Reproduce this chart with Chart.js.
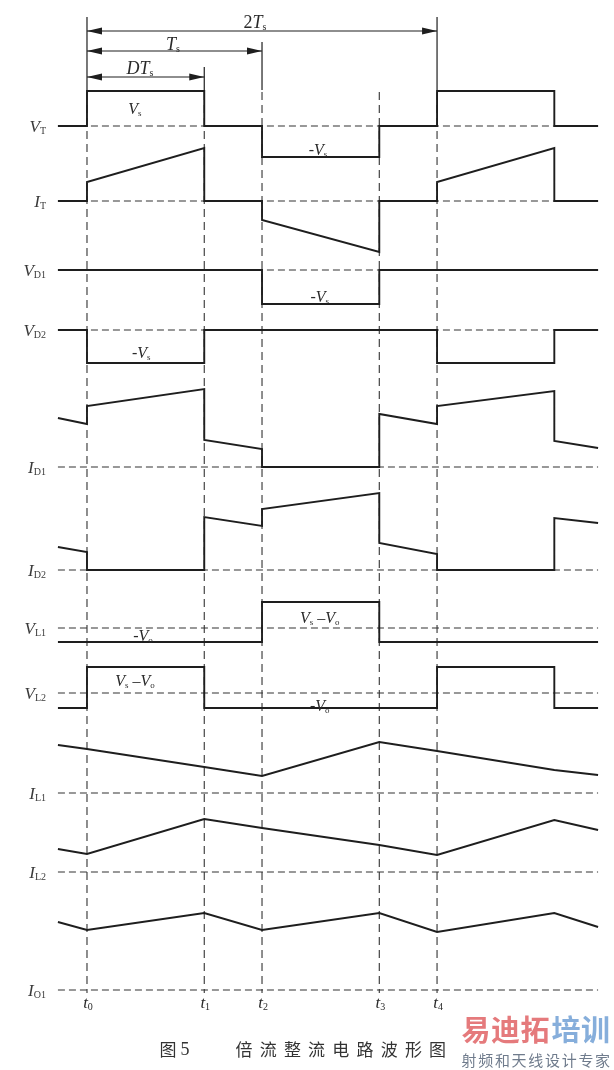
<!DOCTYPE html>
<html lang="zh">
<head>
<meta charset="utf-8">
<title>倍流整流电路波形图</title>
<script src="https://cdn.jsdelivr.net/npm/chart.js@4/dist/chart.umd.min.js"></script>
<style>
  html, body { margin: 0; padding: 0; background: #fff; }
  #wrap { position: relative; width: 614px; height: 1070px; }
</style>
</head>
<body>
<div id="wrap"><canvas id="waves"></canvas></div>
<script>
// time in units of Ts, t0 = 0
const edgeTimes = [0, 0.67, 1, 1.67, 2];
const edgeNames = ["0", "1", "2", "3", "4"];
const tStart = -0.166;
const tEnd = 2.92;
const stepTimes = [tStart, 0, 0, 0.67, 0.67, 1, 1, 1.67, 1.67, 2, 2, 2.67, 2.67, tEnd];
const rampTimes = [tStart, 0, 0.67, 1, 1.67, 2, 2.67, tEnd];

// amplitudes above each trace's zero line
const vT = [0, 0, 35, 35, 0, 0, -31, -31, 0, 0, 35, 35, 0, 0];
const iT = [0, 0, 19, 53, 0, 0, -19, -51, 0, 0, 19, 53, 0, 0];
const vD1 = [0, 0, 0, 0, 0, 0, -34, -34, 0, 0, 0, 0, 0, 0];
const vD2 = [0, 0, -33, -33, 0, 0, 0, 0, 0, 0, -33, -33, 0, 0];
const iD1 = [49, 43, 61, 78, 27, 18, 0, 0, 53, 43, 61, 76, 26, 19];
const iD2 = [23, 18, 0, 0, 53, 44, 61, 77, 27, 16, 0, 0, 52, 47];
const vL1 = [-14, -14, -14, -14, -14, -14, 26, 26, -14, -14, -14, -14, -14, -14];
const vL2 = [-15, -15, 26, 26, -15, -15, -15, -15, -15, -15, 26, 26, -15, -15];
const iL1 = [48, 44, 26, 17, 51, 42, 23, 18];
const iL2 = [23, 18, 53, 44, 27, 17, 52, 42];
const iO1 = [68, 60, 77, 60, 77, 58, 77, 63];

// layout: row of each trace's zero line
const baseRows = [126, 201, 270, 330, 467, 570, 628, 693, 793, 872, 990];

const traces = [
  { label: [["V", "i"], ["T", "s"]], times: stepTimes, values: vT },
  { label: [["I", "i"], ["T", "s"]], times: stepTimes, values: iT },
  { label: [["V", "i"], ["D1", "s"]], times: stepTimes, values: vD1 },
  { label: [["V", "i"], ["D2", "s"]], times: stepTimes, values: vD2 },
  { label: [["I", "i"], ["D1", "s"]], times: stepTimes, values: iD1 },
  { label: [["I", "i"], ["D2", "s"]], times: stepTimes, values: iD2 },
  { label: [["V", "i"], ["L1", "s"]], times: stepTimes, values: vL1 },
  { label: [["V", "i"], ["L2", "s"]], times: stepTimes, values: vL2 },
  { label: [["I", "i"], ["L1", "s"]], times: rampTimes, values: iL1 },
  { label: [["I", "i"], ["L2", "s"]], times: rampTimes, values: iL2 },
  { label: [["I", "i"], ["O1", "s"]], times: rampTimes, values: iO1 },
];

// level tags written on the waveforms: trace, time, amplitude
const VS = [["V", "i"], ["s", "s"]];
const waveTags = [
  { trace: 0, t: 0.274, amp: 18, parts: VS },
  { trace: 0, t: 1.32, amp: -23, parts: [["-", "r"], ...VS] },
  { trace: 2, t: 1.33, amp: -26, parts: [["-", "r"], ...VS] },
  { trace: 3, t: 0.31, amp: -22, parts: [["-", "r"], ...VS] },
  { trace: 6, t: 0.32, amp: -7, parts: [["-", "r"], ["V", "i"], ["o", "s"]] },
  { trace: 6, t: 1.33, amp: 11, parts: [...VS, [" –", "r"], ["V", "i"], ["o", "s"]] },
  { trace: 7, t: 0.274, amp: 13, parts: [...VS, [" –", "r"], ["V", "i"], ["o", "s"]] },
  { trace: 7, t: 1.33, amp: -12, parts: [["-", "r"], ["V", "i"], ["o", "s"]] },
];

const INK = "#1e1e1e";
const SERIF = '"Liberation Serif", "DejaVu Serif", serif';

function drawRich(ctx, parts, x, y, size, align) {
  const fontFor = (k) =>
    k === "s" ? `${Math.round(size * 0.58)}px ${SERIF}` : `${k === "i" ? "italic " : ""}${size}px ${SERIF}`;
  let w = 0;
  parts.forEach(([t, k]) => {
    ctx.font = fontFor(k);
    w += ctx.measureText(t).width;
  });
  let cx = align === "right" ? x - w : align === "center" ? x - w / 2 : x;
  ctx.textBaseline = "alphabetic";
  ctx.textAlign = "left";
  parts.forEach(([t, k]) => {
    ctx.font = fontFor(k);
    ctx.fillText(t, cx, k === "s" ? y + size * 0.12 : y);
    cx += ctx.measureText(t).width;
  });
}

function arrowHead(ctx, x, y, dir) {
  ctx.beginPath();
  ctx.moveTo(x, y);
  ctx.lineTo(x + dir * 15, y - 3.5);
  ctx.lineTo(x + dir * 15, y + 3.5);
  ctx.closePath();
  ctx.fill();
}

function dimArrow(ctx, x1, x2, y) {
  ctx.beginPath();
  ctx.moveTo(x1, y);
  ctx.lineTo(x2, y);
  ctx.stroke();
  arrowHead(ctx, x1, y, 1);
  arrowHead(ctx, x2, y, -1);
}

const overlay = {
  id: "overlay",
  afterDatasetsDraw(chart) {
    const { ctx, scales } = chart;
    const px = (t) => scales.x.getPixelForValue(t);
    const py = (r) => scales.y.getPixelForValue(r);
    ctx.save();

    // trace names on the left
    ctx.fillStyle = "#3a3a3a";
    traces.forEach((tr, i) => {
      drawRich(ctx, tr.label, 46, py(baseRows[i]) + 6, 17, "right");
    });

    // level tags
    ctx.fillStyle = "#2a2a2a";
    waveTags.forEach((tag) => {
      drawRich(ctx, tag.parts, px(tag.t), py(baseRows[tag.trace] - tag.amp) + 6, 16, "center");
    });

    // time marks
    edgeTimes.forEach((t, i) => {
      drawRich(ctx, [["t", "i"], [edgeNames[i], "s"]], px(t) + 1, py(1008), 17, "center");
    });

    // period dimensions on top
    ctx.strokeStyle = INK;
    ctx.fillStyle = INK;
    ctx.lineWidth = 1.2;
    [[edgeTimes[0], 17], [edgeTimes[1], 67], [edgeTimes[2], 42], [edgeTimes[4], 17]].forEach(([t, top]) => {
      ctx.beginPath();
      ctx.moveTo(px(t), py(top));
      ctx.lineTo(px(t), py(90));
      ctx.stroke();
    });
    dimArrow(ctx, px(edgeTimes[0]), px(edgeTimes[4]), py(31));
    dimArrow(ctx, px(edgeTimes[0]), px(edgeTimes[2]), py(51));
    dimArrow(ctx, px(edgeTimes[0]), px(edgeTimes[1]), py(77));
    ctx.fillStyle = "#2a2a2a";
    drawRich(ctx, [["2", "r"], ["T", "i"], ["s", "s"]], 255, 28, 18, "center");
    drawRich(ctx, [["T", "i"], ["s", "s"]], 173, 50, 18, "center");
    drawRich(ctx, [["DT", "i"], ["s", "s"]], 140, 74, 18, "center");

    // caption
    ctx.fillStyle = "#333";
    ctx.font = '17px "Noto Sans CJK SC"';
    ctx.textAlign = "center";
    ctx.textBaseline = "middle";
    ctx.fillText("图", 168, 1050);
    ctx.font = `18px ${SERIF}`;
    ctx.fillText("5", 185, 1050);
    ctx.font = '17px "Noto Sans CJK SC"';
    Array.from("倍流整流电路波形图").forEach((ch, i) => ctx.fillText(ch, 244 + i * 24.2, 1050));

    // site mark
    ctx.font = 'bold 29px "Noto Sans CJK SC"';
    ctx.fillStyle = "#e57a7c";
    Array.from("易迪拓").forEach((ch, i) => ctx.fillText(ch, 476 + i * 29.5, 1030));
    ctx.fillStyle = "#86aedb";
    Array.from("培训").forEach((ch, i) => ctx.fillText(ch, 566 + i * 29.5, 1030));
    ctx.font = '15px "Noto Sans CJK SC"';
    ctx.fillStyle = "#6f7b8c";
    Array.from("射频和天线设计专家").forEach((ch, i) => ctx.fillText(ch, 469 + i * 16.7, 1060));

    ctx.restore();
  },
};

const datasets = [];
traces.forEach((tr, i) => {
  datasets.push({
    data: tr.times.map((t, k) => ({ x: t, y: baseRows[i] - tr.values[k] })),
    borderColor: INK,
    borderWidth: 1.9,
    order: 0,
  });
});
baseRows.forEach((row) => {
  datasets.push({
    data: [{ x: tStart, y: row }, { x: tEnd, y: row }],
    borderColor: "#333",
    borderWidth: 1.1,
    borderDash: [7, 4],
    order: 2,
  });
});
edgeTimes.forEach((t) => {
  datasets.push({
    data: [{ x: t, y: 92 }, { x: t, y: 993 }],
    borderColor: "#333",
    borderWidth: 1.1,
    borderDash: [8, 5],
    order: 1,
  });
});

new Chart(document.getElementById("waves"), {
  type: "scatter",
  data: { datasets },
  options: {
    responsive: true,
    maintainAspectRatio: false,
    animation: false,
    events: [],
    layout: { padding: 0 },
    showLine: true,
    elements: {
      point: { radius: 0 },
      line: { tension: 0, fill: false, borderCapStyle: "butt", borderJoinStyle: "miter" },
    },
    plugins: { legend: { display: false }, tooltip: { enabled: false } },
    scales: {
      x: { type: "linear", min: -0.497, max: 3.011, display: false },
      y: { type: "linear", min: 0, max: 1070, reverse: true, display: false },
    },
  },
  plugins: [overlay],
});
</script>
</body>
</html>
